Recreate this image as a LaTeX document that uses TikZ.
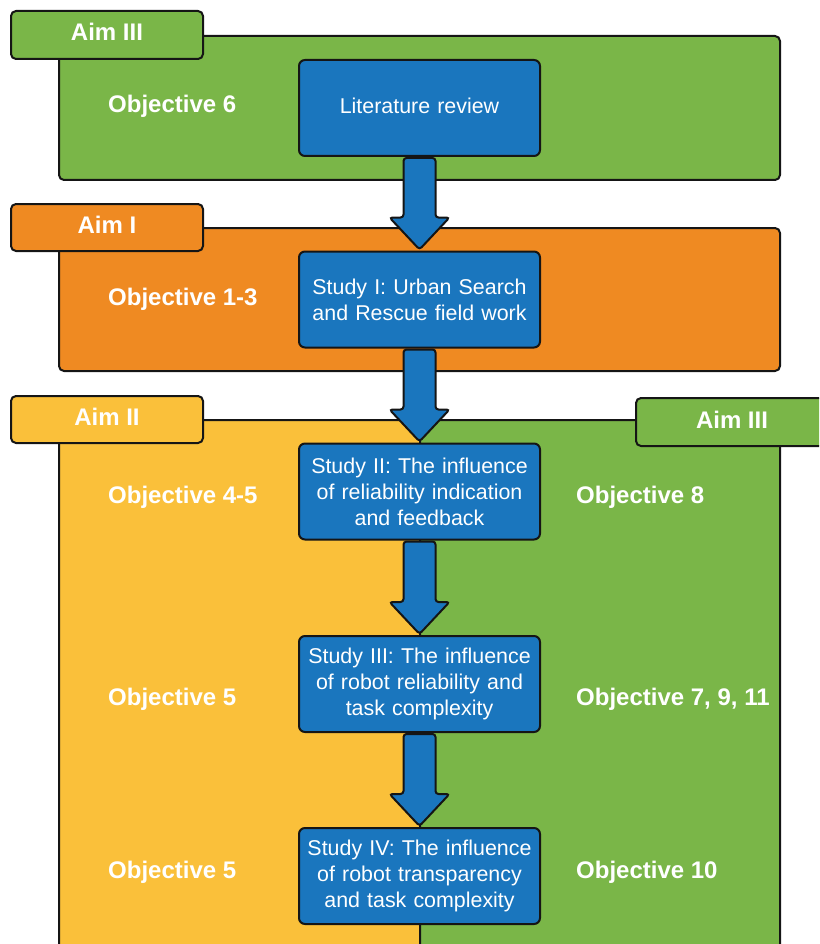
\documentclass[tikz,border=0pt]{standalone}
\usepackage{fontspec}
\setmainfont{Liberation Sans}
\usetikzlibrary{calc}
\definecolor{aimgreen}{HTML}{7AB648}
\definecolor{aimorange}{HTML}{EF8A22}
\definecolor{aimyellow}{HTML}{FAC03A}
\definecolor{studyblue}{HTML}{1A76BE}
\definecolor{edge}{HTML}{151515}
\tikzset{
  panel/.style={draw=edge, line width=2pt, rounded corners=5pt},
  stepbox/.style={draw=edge, line width=2pt, rounded corners=6pt, fill=studyblue,
    minimum width=241pt, minimum height=96pt, text width=232pt, align=center,
    text=white, inner sep=0pt, font=\fontsize{21.4}{26}\selectfont},
  aimlabel/.style={text=white, inner sep=0pt, text height=16pt, text depth=0pt,
    font=\fontsize{24}{26}\selectfont\bfseries},
  objlabel/.style={aimlabel, anchor=west},
  flowarrow/.style={draw=edge, line width=2pt, fill=studyblue, rounded corners=3pt}
}
\newcommand\flowarrow[2]{%
  \path[flowarrow] let \p1=(#1.south), \p2=(#2.north) in
    (\x1,\y1-1pt) -- (\x1+16pt,\y1-1pt) -- (\x1+16pt,\y2+33pt) -- (\x1+30pt,\y2+33pt)
    -- (\x2,\y2+1pt) -- (\x1-30pt,\y2+33pt) -- (\x1-16pt,\y2+33pt) -- (\x1-16pt,\y1-1pt) -- cycle;}
\begin{document}
\begin{tikzpicture}[x=1pt,y=-1pt]
\useasboundingbox (0,0) rectangle (819,944);
\clip (0,0) rectangle (819,944);

% Aim III (top band)
\path[panel, fill=aimgreen] (59,36) rectangle (780,180);
\path[panel, fill=aimgreen] (11,11) rectangle (203,59);
\node[aimlabel] (aim3a) at (107,33) {Aim III};
\node[objlabel] (obj6) at (108,105) {Objective 6};

% Aim I
\path[panel, fill=aimorange] (59,228) rectangle (780,371);
\path[panel, fill=aimorange] (11,204) rectangle (203,251);
\node[aimlabel] (aim1) at (107,225) {Aim I};
\node[objlabel] (obj13) at (108,297) {Objective 1-3};

% Aim II and Aim III (lower columns)
\path[panel, fill=aimyellow] (59,420) rectangle (420,975);
\path[panel, fill=aimgreen] (420,420) rectangle (780,975);
\path[panel, fill=aimyellow] (11,396) rectangle (203,443);
\path[panel, fill=aimgreen] (636,398) rectangle (850,446);
\node[aimlabel] (aim2) at (107,417) {Aim II};
\node[aimlabel] (aim3b) at (732,420) {Aim III};

\node[objlabel] (obj45) at (108,495) {Objective 4-5};
\node[objlabel] (obj5a) at (108,697) {Objective 5};
\node[objlabel] (obj5b) at (108,870) {Objective 5};
\node[objlabel] (obj8) at (576,495) {Objective 8};
\node[objlabel] (obj7) at (576,697) {Objective 7, 9, 11};
\node[objlabel] (obj10) at (576,870) {Objective 10};

% Studies
\node[stepbox] (lit) at (419.5,108) {\raisebox{4pt}{Literature review}};
\node[stepbox] (s1) at (419.5,299.5) {Study I: Urban Search\\and Rescue field work};
\node[stepbox] (s2) at (419.5,491.5) {Study II: The influence\\of reliability indication\\and feedback};
\node[stepbox] (s3) at (419.5,684) {Study III: The influence\\of robot reliability and\\task complexity};
\node[stepbox] (s4) at (419.5,876) {Study IV: The influence\\of robot transparency\\and task complexity};

% Flow between studies
\flowarrow{lit}{s1}
\flowarrow{s1}{s2}
\flowarrow{s2}{s3}
\flowarrow{s3}{s4}
\end{tikzpicture}
\end{document}
